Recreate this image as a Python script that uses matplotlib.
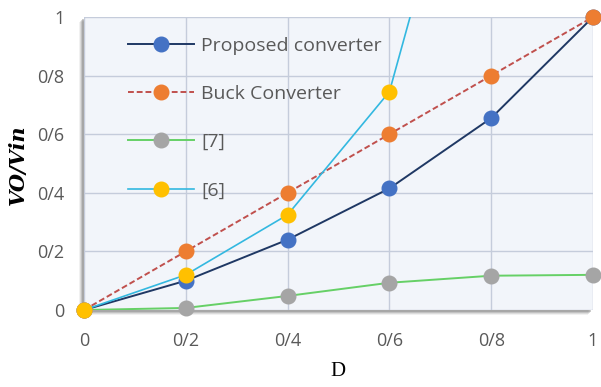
import numpy as np
import matplotlib
matplotlib.use("Agg")
import matplotlib.pyplot as plt
from matplotlib.patches import Rectangle
from matplotlib.lines import Line2D

# ---- data ----
D = [0, 0.2, 0.4, 0.6, 0.8, 1.0]
proposed = [0, 0.10, 0.24, 0.415, 0.655, 1.0]
buck = [0, 0.2, 0.4, 0.6, 0.8, 1.0]
ref7 = [0, 0.007, 0.048, 0.093, 0.117, 0.12]
ref6 = [0, 0.12, 0.325, 0.745, 2.0, 3.5]
tick_vals = [0, 0.2, 0.4, 0.6, 0.8, 1.0]
tick_labels = ["0", "0/2", "0/4", "0/6", "0/8", "1"]
series_names = ["Proposed converter", "Buck Converter", "[7]", "[6]"]

W, H = 601, 387
fig = plt.figure(figsize=(W / 100, H / 100), dpi=100)
fig.patch.set_facecolor("white")

x0, x1, y0, y1 = 84, 593, 310, 17
ax = fig.add_axes([x0 / W, 1 - y0 / H, (x1 - x0) / W, (y0 - y1) / H])
ax.set_facecolor("#F2F5FA")

# drop shadow (left & bottom)
for i, a in enumerate([0.10, 0.18, 0.28, 0.40]):
    off = 5 - i
    fig.patches.append(Rectangle(((x0 - off) / W, 1 - (y0 + off) / H),
                                 (x1 - x0) / W, (y0 - y1) / H,
                                 transform=fig.transFigure, facecolor="#7F7F7F",
                                 alpha=a, edgecolor="none", zorder=-5))
fig.patches.append(Rectangle((x0 / W, 1 - y0 / H), (x1 - x0) / W, (y0 - y1) / H,
                             transform=fig.transFigure, facecolor="#F2F5FA",
                             edgecolor="none", zorder=-4))

styles = [
    dict(color="#1F3864", ls="-", lw=1.4, mfc="#4472C4"),
    dict(color="#C0504D", ls=(0, (3, 1.5)), lw=1.4, mfc="#ED7D31"),
    dict(color="#66D066", ls="-", lw=1.4, mfc="#A5A5A5"),
    dict(color="#33B8E0", ls="-", lw=1.2, mfc="#FFC000"),
]
data = [proposed, buck, ref7, ref6]
handles = []
MS = 10.5
for vals, st, name in zip(data, styles, series_names):
    vals = np.asarray(vals, dtype=float)
    xs = np.asarray(D)
    ax.plot(xs, vals, color=st["color"], ls=st["ls"], lw=st["lw"], zorder=3)
    m = vals <= 1.0
    ax.plot(xs[m], vals[m], ls="None", marker="o", ms=MS, mfc=st["mfc"],
            mec=st["mfc"], clip_on=False, zorder=4)
    handles.append(Line2D([0], [0], color=st["color"], ls=st["ls"], lw=st["lw"],
                          marker="o", ms=MS, mfc=st["mfc"], mec=st["mfc"]))

ax.set_xlim(0, 1)
ax.set_ylim(0, 1)
ax.set_xticks(tick_vals)
ax.set_xticklabels(tick_labels)
ax.set_yticks(tick_vals)
ax.set_yticklabels(tick_labels)
ax.tick_params(length=0, labelsize=13, labelcolor="#595959")
for lab in ax.get_xticklabels() + ax.get_yticklabels():
    lab.set_fontfamily("Open Sans")
ax.tick_params(axis="x", pad=16)
ax.tick_params(axis="y", pad=14)
ax.grid(True, color="#C5CCDB", lw=1.0)
ax.set_axisbelow(True)
for s in ax.spines.values():
    s.set_visible(False)

fig.text(18 / W, 1 - 165 / H, "VO/Vin", rotation=90, ha="center", va="center",
         fontsize=15, fontweight="bold", fontstyle="italic", family="DejaVu Serif")
fig.text(338 / W, 1 - 372 / H, "D", ha="center", va="center",
         fontsize=15, family="Liberation Serif")

leg = ax.legend(handles, series_names, loc="upper left",
                bbox_to_anchor=(44 / (x1 - x0), 1 - 20 / (y0 - y1)),
                frameon=False, handlelength=3.4, handletextpad=0.35,
                labelspacing=1.55, borderpad=0, borderaxespad=0,
                prop=dict(family="Open Sans", size=14))
for t in leg.get_texts():
    t.set_color("#595959")

fig.savefig("out.png", dpi=100)
